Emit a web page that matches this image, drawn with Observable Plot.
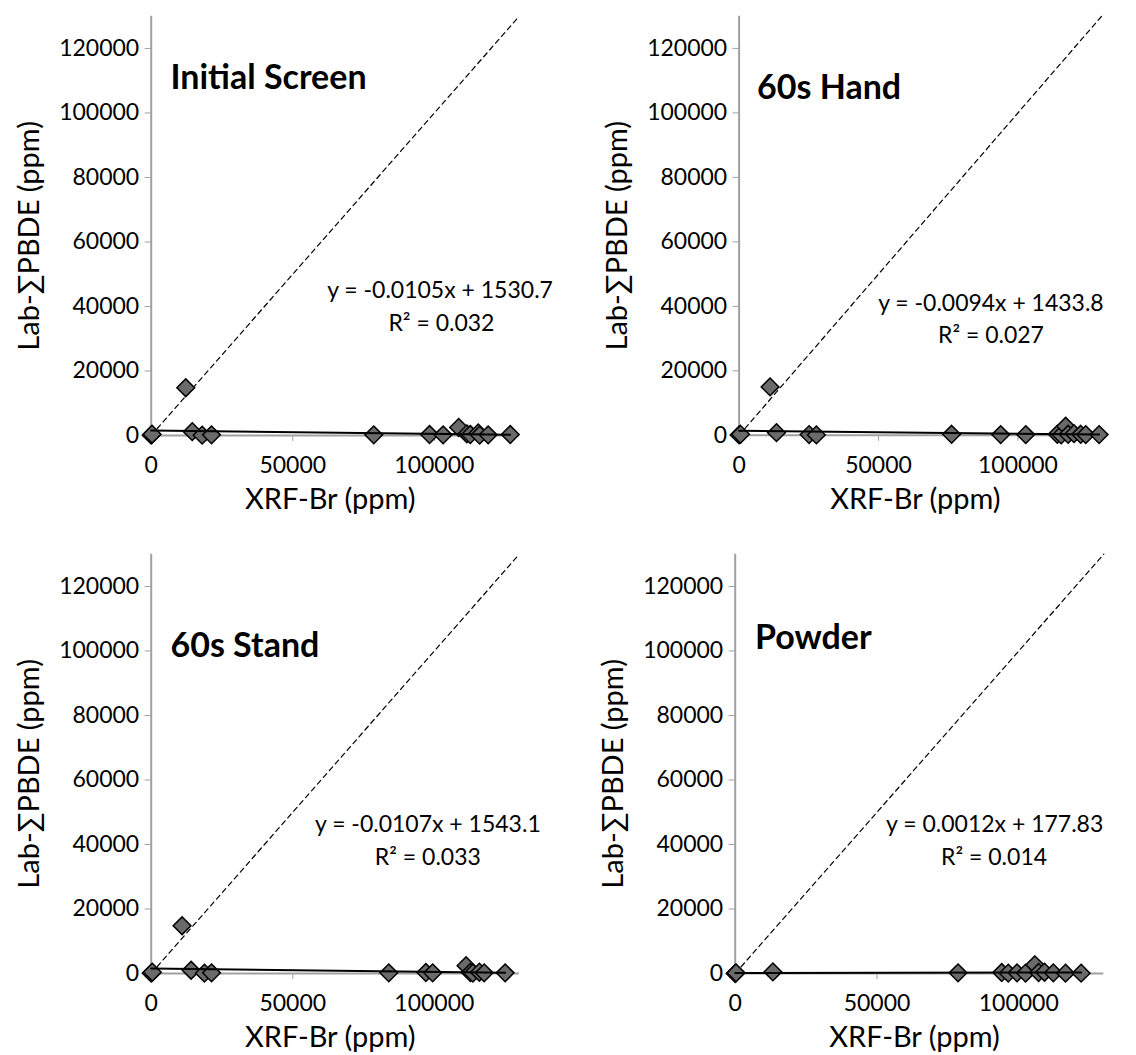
<!DOCTYPE html>
<html>
<head>
<meta charset="utf-8">
<script src="https://cdn.jsdelivr.net/npm/d3@7"></script>
<script src="https://cdn.jsdelivr.net/npm/@observablehq/plot@0.6"></script>
<style>
  html, body { margin: 0; padding: 0; background: #fff; width: 1136px; height: 1055px; overflow: hidden; }
  #wrap { position: relative; width: 1136px; height: 1055px; font-family: Lato, "Open Sans", sans-serif; }
  .panel { position: absolute; }
  .panel svg { overflow: visible; }
</style>
</head>
<body>
<div id="wrap"></div>
<script>
// ---- data ----
const panelNames = ["Initial Screen", "60s Hand", "60s Stand", "Powder"];

const xrfInitial = [0, 300, 12200, 14500, 18000, 21300, 78600, 98300, 103100, 108600, 111500, 112700, 115500, 116000, 119000, 126800];
const labInitial = [100, 400, 14800, 1200, 100, 200, 200, 300, 200, 2500, 500, 300, 800, 100, 200, 300];

const xrfHand = [0, 500, 11100, 13400, 25100, 27700, 76200, 93800, 102800, 114100, 115500, 117100, 118000, 120100, 122500, 124300, 129100];
const labHand = [100, 300, 15000, 800, 200, 100, 300, 200, 200, 300, 100, 2800, 300, 500, 300, 200, 200];

const xrfStand = [0, 400, 10900, 14100, 18800, 21300, 83900, 97000, 99400, 111200, 112700, 113600, 115900, 117600, 125000];
const labStand = [100, 400, 14800, 1000, 100, 200, 200, 300, 200, 2400, 300, 100, 400, 200, 200];

const xrfPowder = [0, 300, 13300, 78600, 94000, 96300, 99400, 102400, 105700, 107000, 109100, 112200, 116500, 122000];
const labPowder = [0, 200, 500, 200, 300, 100, 200, 100, 2700, 300, 400, 200, 100, 100];

const slopes = [-0.0105, -0.0094, -0.0107, 0.0012];
const intercepts = [1530.7, 1433.8, 1543.1, 177.83];
const r2Values = ["0.032", "0.027", "0.033", "0.014"];

const xTicks = [0, 50000, 100000];
const yTicks = [0, 20000, 40000, 60000, 80000, 100000, 120000];
const axisMax = 130000;
const xLabel = "XRF-Br (ppm)";
const yLabel = "Lab-∑PBDE (ppm)";

const xrfSets = [xrfInitial, xrfHand, xrfStand, xrfPowder];
const labSets = [labInitial, labHand, labStand, labPowder];

// ---- layout (pixels / annotation anchors) ----
const layout = [
  {left: 0,     top: 0,     width: 568, mr: 49.2, title: [6800, 110700], eq: [102000, 45000], r2: [102500, 34700]},
  {left: 588.3, top: 0,     width: 548, mr: 34.6, title: [6450, 107600], eq: [90300, 40900], r2: [90300, 31000]},
  {left: 0,     top: 537.7, width: 568, mr: 49.2, title: [6800, 101600], eq: [97700, 46100], r2: [97700, 35900]},
  {left: 584.3, top: 537.7, width: 548, mr: 28.7, title: [7000, 104100], eq: [91500, 46100], r2: [91300, 35900]}
];

const axisGray = "#a0a0a0";
const wrap = document.getElementById("wrap");

panelNames.forEach((name, i) => {
  const L = layout[i];
  const pts = xrfSets[i].map((x, j) => ({x, y: labSets[i][j]}));
  const xmin = d3.min(xrfSets[i]), xmax = d3.max(xrfSets[i]);
  const trend = [xmin, xmax].map(x => ({x, y: slopes[i] * x + intercepts[i]}));
  const eqText = `y = ${slopes[i]}x + ${intercepts[i]}`;
  const r2Text = `R² = ${r2Values[i]}`;

  const chart = Plot.plot({
    width: L.width,
    height: 530,
    marginLeft: 150.7,
    marginRight: L.mr,
    marginTop: 15.7,
    marginBottom: 95,
    x: {domain: [0, axisMax]},
    y: {domain: [0, axisMax]},
    style: {fontFamily: "Lato, 'Open Sans', sans-serif", background: "transparent", overflow: "visible"},
    marks: [
      Plot.line([{x: 0, y: 0}, {x: axisMax, y: axisMax}], {x: "x", y: "y", stroke: "#000", strokeWidth: 1.2, strokeDasharray: "5,4"}),
      Plot.ruleX([0], {y1: 0, y2: axisMax, stroke: axisGray, strokeWidth: 2}),
      Plot.ruleY([0], {x1: 0, x2: axisMax, stroke: axisGray, strokeWidth: 2}),
      Plot.axisY(yTicks, {tickSize: 6, tickPadding: 6, stroke: axisGray, fill: "#000", fontSize: 23, tickFormat: d => String(d), label: null}),
      Plot.axisX(xTicks, {tickSize: 6, tickPadding: 15, stroke: axisGray, fill: "#000", fontSize: 23, tickFormat: d => String(d), label: null}),
      Plot.text([yLabel], {frameAnchor: "left", rotate: -90, textAnchor: "middle", lineAnchor: "middle", dx: -121, dy: 10, fontSize: 29, fill: "#000"}),
      Plot.text([xLabel], {frameAnchor: "bottom", textAnchor: "middle", lineAnchor: "middle", dx: -5, dy: 64, fontSize: 29, fill: "#000"}),
      Plot.dot(pts, {x: "x", y: "y", symbol: "diamond2", r: 8, fill: "#6a6a6a", stroke: "#000", strokeWidth: 1.5}),
      Plot.line(trend, {x: "x", y: "y", stroke: "#000", strokeWidth: 2}),
      Plot.text([name], {x: () => L.title[0], y: () => L.title[1], text: d => d, textAnchor: "start", fontSize: 34, fontWeight: "bold", fill: "#000"}),
      Plot.text([eqText], {x: () => L.eq[0], y: () => L.eq[1], text: d => d, fontSize: 23, fill: "#000"}),
      Plot.text([r2Text], {x: () => L.r2[0], y: () => L.r2[1], text: d => d, fontSize: 23, fill: "#000"})
    ]
  });
  const div = document.createElement("div");
  div.className = "panel";
  div.style.left = L.left + "px";
  div.style.top = L.top + "px";
  div.appendChild(chart);
  wrap.appendChild(div);
});
</script>
</body>
</html>
